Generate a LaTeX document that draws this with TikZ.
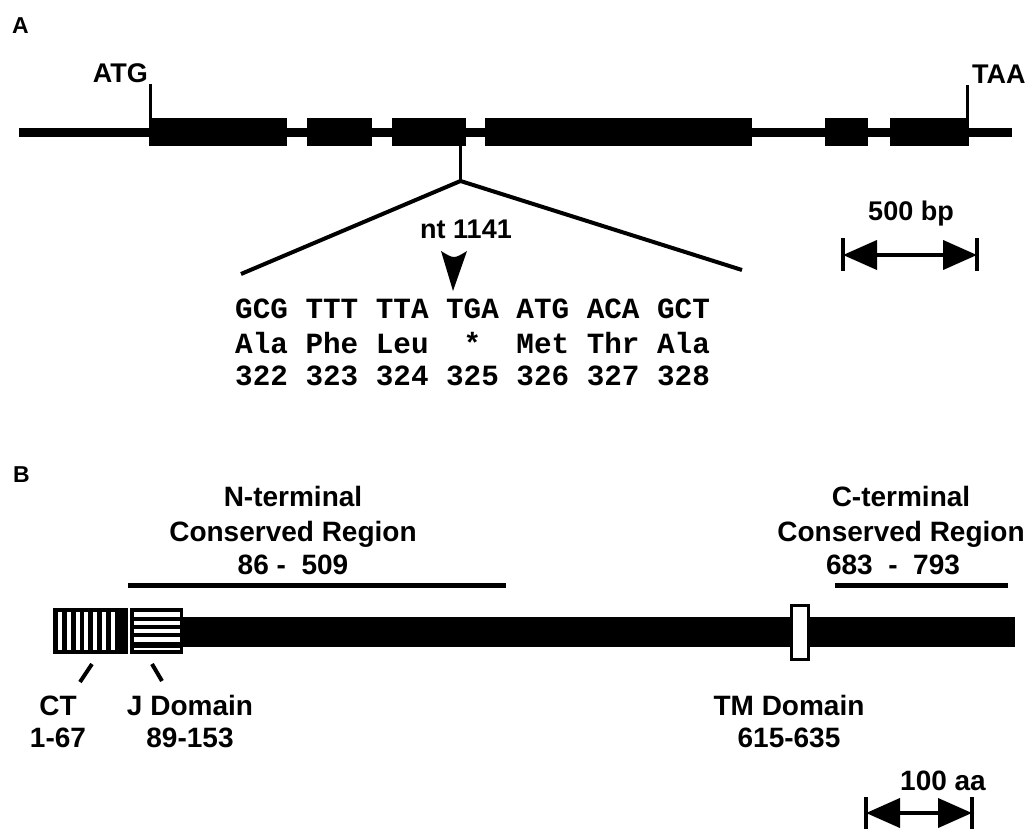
\documentclass[tikz,border=0pt]{standalone}
\usepackage{fontspec}
\setmainfont{Liberation Sans}
\newfontfamily\monofnt{Liberation Mono}
\usetikzlibrary{arrows.meta}
\begin{document}
\begin{tikzpicture}[x=1pt,y=-1pt,
  panel/.style={font=\bfseries\fontsize{23}{25}\selectfont, inner sep=0pt, anchor=base west},
  lblA/.style={font=\bfseries\fontsize{27}{30}\selectfont, inner sep=0pt},
  lblB/.style={font=\bfseries\fontsize{28}{32}\selectfont, inner sep=0pt, anchor=base},
  cod/.style={font=\monofnt\bfseries\fontsize{29.3}{32}\selectfont, inner sep=0pt, anchor=base west},
  thinln/.style={line width=3pt},
  wedge/.style={line width=4pt},
  regionln/.style={line width=5pt},
  tickln/.style={line width=4pt},
  scaleln/.style={line width=4pt, {Triangle[length=34pt,width=29pt]}-{Triangle[length=34pt,width=29pt]}},
]
\useasboundingbox (0,0) rectangle (1030,829);

% ---------------- Panel A ----------------
\node[panel] (labA) at (12,34) {A};

% gene line and exons
\coordinate (gL) at (19,132.5);
\coordinate (gR) at (1012,132.5);
\draw[line width=9pt] (gL) -- (gR);
\fill (149,118) rectangle (287,146);
\fill (307,118) rectangle (372,146);
\fill (392,118) rectangle (466,146);
\fill (485,118) rectangle (752,146);
\fill (825,118) rectangle (868,146);
\fill (890,118) rectangle (969,146);

% start / stop
\coordinate (atgB) at (150.5,119);
\coordinate (atgT) at (150.5,84);
\draw[thinln] (atgB) -- (atgT);
\node[lblA, anchor=base east] (atg) at (148,83) {ATG};
\coordinate (taaB) at (967.5,133);
\coordinate (taaT) at (967.5,85);
\draw[thinln] (taaB) -- (taaT);
\node[lblA, anchor=base west] (taa) at (972,84) {TAA};

% expansion wedge
\coordinate (stemT) at (460.5,146);
\coordinate (apex) at (460.5,181);
\coordinate (wL) at (241,274);
\coordinate (wR) at (742,270);
\draw[thinln] (stemT) -- (apex);
\draw[wedge] (wL) -- (apex) -- (wR);

% mutation marker
\node[lblA, anchor=base] (nt) at (466,238) {nt 1141};
\fill (441,251) .. controls (454,259) .. (467,251) -- (453,291) -- cycle;

% codons
\foreach \c [count=\i from 0] in {GCG,TTT,TTA,TGA,ATG,ACA,GCT}
  \node[cod] (c\i) at (235+70.32*\i,318) {\c};
\foreach \c [count=\i from 0] in {Ala,Phe,Leu,{\phantom{A}*\phantom{A}},Met,Thr,Ala}
  \node[cod] (a\i) at (235+70.32*\i,353) {\c};
\foreach \c [count=\i from 0] in {322,323,324,325,326,327,328}
  \node[cod] (n\i) at (235+70.32*\i,385) {\c};

% scale bar A
\node[lblA, anchor=base] (bp) at (911,220) {500 bp};
\coordinate (sAL) at (843,255);
\coordinate (sAR) at (977,255);
\draw[tickln] (843,238) -- (843,271);
\draw[tickln] (977,238) -- (977,271);
\draw[scaleln] (sAL) -- (sAR);

% ---------------- Panel B ----------------
\node[panel] (labB) at (13,482) {B};

\node[lblB] (nt1) at (293,506) {N-terminal};
\node[lblB] (nt2) at (293,541) {Conserved Region};
\node[lblB] (nt3) at (293,574) {86 -\ \ 509};
\coordinate (nL) at (128,585);
\coordinate (nR) at (506,585);
\draw[regionln] (nL) -- (nR);

\node[lblB] (ct1) at (901,506) {C-terminal};
\node[lblB] (ct2) at (901,541) {Conserved Region};
\node[lblB] (ct3) at (893,574) {683\ \ -\ \ 793};
\coordinate (cL) at (835,585);
\coordinate (cR) at (1008,585);
\draw[regionln] (cL) -- (cR);

% protein bar
\fill (183,617) rectangle (1015,647);
% CT box (vertical hatching)
\fill (53,608) rectangle (128,654);
\foreach \k in {0,...,6}
  \fill[white] (58+8.8*\k,612) rectangle (62+8.8*\k,650);
% J box (horizontal hatching)
\fill (130,608) rectangle (183,654);
\foreach \yy in {612.3,620.7,629.2,637.4}
  \fill[white] (134,\yy) rectangle (180,\yy+4.2);
\fill[white] (134,647.7) rectangle (180,650);
% TM box
\filldraw[fill=white, line width=3pt] (791,605) rectangle (808,659);

% domain pointers
\coordinate (ctP1) at (92,664);
\coordinate (ctP2) at (80,682);
\coordinate (jP1) at (152,664);
\coordinate (jP2) at (162,681);
\draw[tickln] (ctP1) -- (ctP2);
\draw[tickln] (jP1) -- (jP2);

\node[lblB] (ctl) at (58,715) {CT};
\node[lblB] (ctn) at (58,747) {1-67};
\node[lblB] (jl) at (190,715) {J Domain};
\node[lblB] (jn) at (190,747) {89-153};
\node[lblB] (tml) at (789,715) {TM Domain};
\node[lblB] (tmn) at (789,747) {615-635};

% scale bar B
\node[lblB] (aa) at (943,790) {100 aa};
\coordinate (sBL) at (866,813);
\coordinate (sBR) at (972,813);
\draw[tickln] (866,797) -- (866,829);
\draw[tickln] (972,797) -- (972,829);
\draw[scaleln] (sBL) -- (sBR);
\end{tikzpicture}
\end{document}
